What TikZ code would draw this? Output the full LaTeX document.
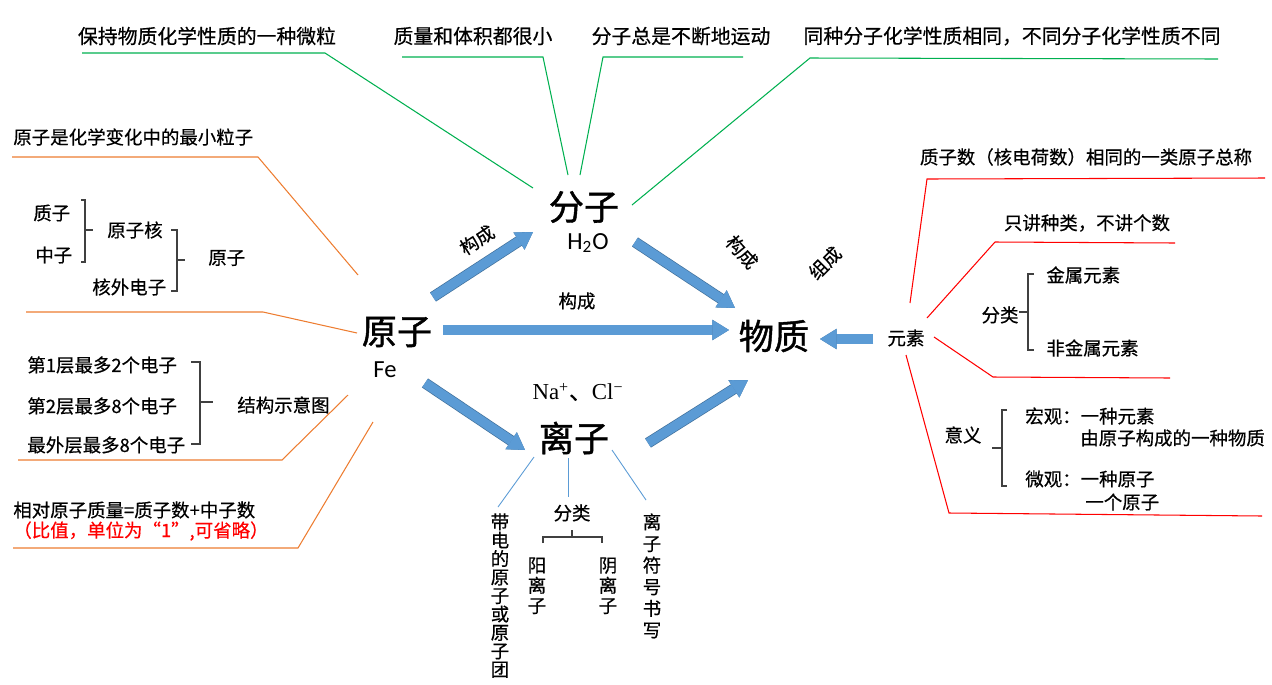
\documentclass[tikz,border=0pt]{standalone}
\usepackage{fontspec}
\setmainfont{Noto Sans CJK SC}[FakeBold=0.5]
\newfontfamily\timesrm{Liberation Serif}
\newfontfamily\calibri{Carlito}
\newfontfamily\heavy{Noto Sans CJK SC}[FakeBold=1.2]
\usepackage{tikz}
\usetikzlibrary{arrows.meta}

\definecolor{leafgreen}{HTML}{00B050}
\definecolor{rustline}{HTML}{ED7D31}
\definecolor{redline}{HTML}{FF0000}
\definecolor{skyline}{HTML}{5B9BD5}
\definecolor{arrowfill}{HTML}{5B9BD5}
\definecolor{arrowedge}{HTML}{41719C}
\definecolor{bracegray}{HTML}{404040}

\begin{document}
\begin{tikzpicture}[x=0.02cm,y=-0.02cm]
                    \tikzset{txt/.style={inner sep=0pt,font=\fontsize{10.5}{12}\selectfont},
                             toptext/.style={inner sep=0pt,font=\fontsize{11.3}{13}\selectfont},
                             big/.style={inner sep=0pt,font=\heavy\fontsize{20}{24}\selectfont},
                             vtext/.style={inner sep=0pt,anchor=north,align=center,font=\fontsize{10.5}{11.5}\selectfont},
                             gline/.style={leafgreen,line width=0.6pt},
                             oline/.style={rustline,line width=0.6pt},
                             rline/.style={redline,line width=0.6pt},
                             bline/.style={skyline,line width=0.5pt},
                             brace/.style={bracegray,line width=0.6pt},
                             bigarrow/.style={line width=5.4pt,draw=arrowfill,
                                 -{Triangle[length=9.5pt,width=11.5pt,line width=0.3pt,fill=arrowfill]},
                                 preaction={draw=arrowedge,line width=6.2pt,
                                 -{Triangle[length=9.5pt,width=11.5pt,line width=1.1pt,fill=arrowedge]}}}}
                    \useasboundingbox (0,0) rectangle (1272,684);
                    % centre words
                    \node[big] (atom) at (397,332) {原子};
                    \node[inner sep=0pt,font=\calibri\fontsize{14}{16}\selectfont] (fe) at (385,370) {Fe};
                    \node[big] (molecule) at (584,207) {分子};
                    \node[inner sep=0pt,font=\calibri\fontsize{14}{16}\selectfont] (water) at (588,243) {H\textsubscript{2}O};
                    \node[big] (matter) at (774,336) {物质};
                    \node[big] (ion) at (574,438) {离子};
                    \node[inner sep=0pt,font=\fontsize{13}{15}\selectfont] (nacl) at (578,392) {{\timesrm Na\textsuperscript{+}}、{\timesrm Cl\textsuperscript{−}}};
                    \node[txt] (element) at (906,338) {元素};
                    % big arrows
                    \coordinate (s1) at (433,297);
                    \coordinate (e1) at (533,232);
                    \coordinate (s2) at (635,242);
                    \coordinate (e2) at (735,308);
                    \coordinate (s3) at (443,330);
                    \coordinate (e3) at (729,330);
                    \coordinate (s4) at (425,383);
                    \coordinate (e4) at (525,450);
                    \coordinate (s5) at (648,443);
                    \coordinate (e5) at (748,380);
                    \coordinate (s6) at (873,339);
                    \coordinate (e6) at (820,339);
                    \draw[bigarrow] (s1) -- (e1);
                    \draw[bigarrow] (s2) -- (e2);
                    \draw[bigarrow] (s3) -- (e3);
                    \draw[bigarrow] (s4) -- (e4);
                    \draw[bigarrow] (s5) -- (e5);
                    \draw[bigarrow] (s6) -- (e6);
                    \node[txt,rotate=33] (form1) at (477,240) {构成};
                    \node[txt] (form2) at (577,301) {构成};
                    \node[txt,rotate=-48] (form3) at (742,252) {构成};
                    \node[txt,rotate=45] (compose) at (825,263) {组成};
                    % molecule, green
                    \node[toptext] (keep) at (207,36) {保持物质化学性质的一种微粒};
                    \node[toptext] (small) at (473,36) {质量和体积都很小};
                    \node[toptext] (move) at (681,36) {分子总是不断地运动};
                    \node[toptext] (same) at (1012,36) {同种分子化学性质相同，不同分子化学性质不同};
                    \coordinate (k1) at (82,53);
                    \coordinate (k2) at (325,53);
                    \coordinate (k3) at (533,188);
                    \coordinate (m1) at (402,57);
                    \coordinate (m2) at (543,57);
                    \coordinate (m3) at (568,175);
                    \coordinate (v1) at (743,57);
                    \coordinate (v2) at (603,57);
                    \coordinate (v3) at (580,175);
                    \coordinate (d1) at (1218,59);
                    \coordinate (d2) at (810,58);
                    \coordinate (d3) at (632,205);
                    \draw[gline] (k1) -- (k2) -- (k3);
                    \draw[gline] (m1) -- (m2) -- (m3);
                    \draw[gline] (v1) -- (v2) -- (v3);
                    \draw[gline] (d1) -- (d2) -- (d3);
                    % atom, orange
                    \node[txt,anchor=west] (least) at (13,137) {原子是化学变化中的最小粒子};
                    \node[txt,anchor=west] (proton) at (33,213) {质子};
                    \node[txt,anchor=west] (neutron) at (35,255) {中子};
                    \node[txt,anchor=west] (nucleus) at (107,230) {原子核};
                    \node[txt,anchor=west] (electron) at (92,287) {核外电子};
                    \node[txt,anchor=west] (atomword) at (208,258) {原子};
                    \draw[brace] (81,200) -- (85,200) -- (85,262) -- (81,262);
                    \draw[brace] (85,230) -- (93,230);
                    \draw[brace] (171,230) -- (177,230) -- (177,291) -- (171,291);
                    \draw[brace] (177,260) -- (185,260);
                    \node[txt,anchor=west] (shell1) at (27,365) {第1层最多2个电子};
                    \node[txt,anchor=west] (shell2) at (27,406) {第2层最多8个电子};
                    \node[txt,anchor=west] (shell3) at (27,445) {最外层最多8个电子};
                    \node[txt,anchor=west] (sketch) at (237,405) {结构示意图};
                    \draw[brace] (191,362) -- (200,362) -- (200,444) -- (191,444);
                    \draw[brace] (200,402) -- (213,402);
                    \node[txt,anchor=west] (mass) at (13,510) {相对原子质量=质子数+中子数};
                    \node[txt,anchor=west,text=redline] (ratio) at (13,531) {（比值，单位为“1”,可省略）};
                    \coordinate (o1) at (12,157);
                    \coordinate (o2) at (258,157);
                    \coordinate (o3) at (358,275);
                    \coordinate (p1) at (26,312);
                    \coordinate (p2) at (263,312);
                    \coordinate (p3) at (357,333);
                    \coordinate (q1) at (18,460);
                    \coordinate (q2) at (282,460);
                    \coordinate (q3) at (348,395);
                    \coordinate (r1) at (13,548);
                    \coordinate (r2) at (298,548);
                    \coordinate (r3) at (373,422);
                    \draw[oline] (o1) -- (o2) -- (o3);
                    \draw[oline] (p1) -- (p2) -- (p3);
                    \draw[oline] (q1) -- (q2) -- (q3);
                    \draw[oline] (r1) -- (r2) -- (r3);
                    % element, red
                    \node[txt] (total) at (1086,157) {质子数（核电荷数）相同的一类原子总称};
                    \node[txt] (kind) at (1087,223) {只讲种类，不讲个数};
                    \node[txt] (sort) at (1000,315) {分类};
                    \node[txt,anchor=west] (metal) at (1046,275) {金属元素};
                    \node[txt,anchor=west] (nonmetal) at (1046,348) {非金属元素};
                    \draw[brace] (1034,274) -- (1028,274) -- (1028,350) -- (1034,350);
                    \draw[brace] (1028,312) -- (1019,312);
                    \node[txt] (meaning) at (963,435) {意义};
                    \node[txt,anchor=west] (macro) at (1025,416) {宏观：一种元素};
                    \node[txt,anchor=west] (macro2) at (1080,438) {由原子构成的一种物质};
                    \node[txt,anchor=west] (micro) at (1025,479) {微观：一种原子};
                    \node[txt,anchor=west] (micro2) at (1085,502) {一个原子};
                    \draw[brace] (1007,410) -- (1002,410) -- (1002,486) -- (1007,486);
                    \draw[brace] (1002,448) -- (992,448);
                    \coordinate (w1) at (910,303);
                    \coordinate (w2) at (927,179);
                    \coordinate (w3) at (1265,178);
                    \coordinate (x1) at (927,318);
                    \coordinate (x2) at (995,242);
                    \coordinate (x3) at (1175,243);
                    \coordinate (y1) at (934,337);
                    \coordinate (y2) at (993,377);
                    \coordinate (y3) at (1170,378);
                    \coordinate (z1) at (906,355);
                    \coordinate (z2) at (949,513);
                    \coordinate (z3) at (1262,516);
                    \draw[rline] (w1) -- (w2) -- (w3);
                    \draw[rline] (x1) -- (x2) -- (x3);
                    \draw[rline] (y1) -- (y2) -- (y3);
                    \draw[rline] (z1) -- (z2) -- (z3);
                    % ion, blue
                    \node[txt] (ionsort) at (572,513) {分类};
                    \node[vtext,font=\fontsize{10.5}{10.5}\selectfont] (charged) at (500,513) {带\\电\\的\\原\\子\\或\\原\\子\\团};
                    \node[vtext] (cation) at (537,557) {阳\\离\\子};
                    \node[vtext] (anion) at (608,557) {阴\\离\\子};
                    \node[vtext,font=\fontsize{10.5}{12.3}\selectfont] (symbol) at (652,513) {离\\子\\符\\号\\书\\写};
                    \coordinate (i1) at (534,457);
                    \coordinate (i2) at (498,507);
                    \coordinate (j1) at (568,458);
                    \coordinate (j2) at (568,497);
                    \coordinate (h1) at (612,450);
                    \coordinate (h2) at (646,500);
                    \draw[bline] (i1) -- (i2);
                    \draw[bline] (j1) -- (j2);
                    \draw[bline] (h1) -- (h2);
                    \draw[brace] (543,543) -- (543,537) -- (602,537) -- (602,543);
                    \draw[brace] (572,537) -- (572,530);
                \end{tikzpicture}
\end{document}
